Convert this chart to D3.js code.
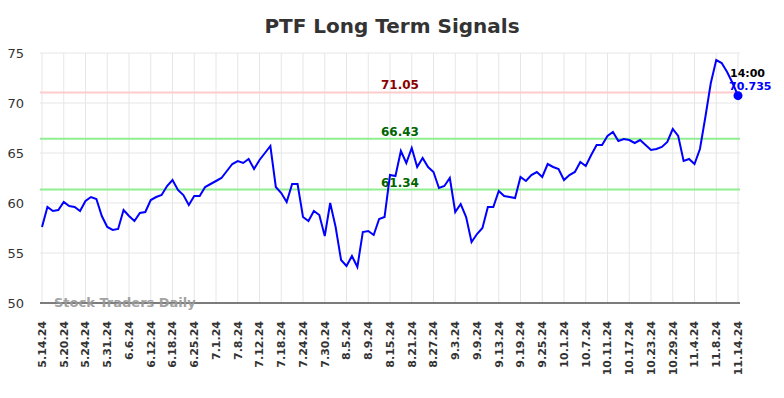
<!DOCTYPE html>
<html>
<head>
<meta charset="utf-8">
<script src="https://cdn.jsdelivr.net/npm/d3@7"></script>
<style>
  body { margin: 0; background: #fff; }
  svg { font-family: "DejaVu Sans", sans-serif; }
</style>
</head>
<body>
<div id="chart"></div>
<script>
// tick labels, one every 4 trading days
const tickLabels = ["5.14.24","5.20.24","5.24.24","5.31.24","6.6.24","6.12.24","6.18.24","6.25.24",
  "7.1.24","7.8.24","7.12.24","7.18.24","7.24.24","7.30.24","8.5.24","8.9.24","8.15.24",
  "8.21.24","8.27.24","9.3.24","9.9.24","9.13.24","9.19.24","9.25.24","10.1.24","10.7.24",
  "10.11.24","10.17.24","10.23.24","10.29.24","11.4.24","11.8.24","11.14.24"];

// daily closes
const prices = [57.6,59.6,59.2,59.3,60.1,59.7,59.6,59.2,60.2,60.6,60.4,58.7,57.6,57.3,57.4,59.3,
  58.7,58.2,59.0,59.1,60.3,60.6,60.8,61.7,62.3,61.3,60.8,59.8,60.7,60.7,61.6,61.9,
  62.2,62.5,63.2,63.9,64.2,64.0,64.4,63.4,64.3,65.0,65.7,61.6,61.0,60.1,61.9,61.9,
  58.6,58.2,59.2,58.8,56.7,60.0,57.6,54.3,53.7,54.7,53.6,57.1,57.2,56.8,58.4,58.6,
  62.8,62.7,65.2,64.0,65.5,63.6,64.5,63.6,63.1,61.5,61.7,62.5,59.1,59.9,58.6,56.1,
  56.9,57.5,59.6,59.6,61.2,60.7,60.6,60.5,62.6,62.2,62.8,63.1,62.6,63.9,63.6,63.4,
  62.3,62.8,63.1,64.1,63.7,64.8,65.8,65.8,66.7,67.1,66.2,66.4,66.3,66.0,66.3,65.8,
  65.3,65.4,65.6,66.1,67.4,66.7,64.2,64.4,63.9,65.4,68.6,72.0,74.3,74.0,73.1,72.0,70.735];

const yTicks = [50, 55, 60, 65, 70, 75];
const resistance = [71.05];
const supports = [66.43, 61.34];
const lastTime = "14:00";

const width = 784, height = 398;
const plotLeft = 40, plotRight = 740, plotTop = 53, plotBottom = 303;

const svg = d3.select("#chart").append("svg")
  .attr("width", width)
  .attr("height", height);

const x = d3.scaleLinear().domain([0, prices.length - 1]).range([plotLeft + 2, plotRight - 2]);
const y = d3.scaleLinear().domain([50, 75]).range([plotBottom, plotTop]);

// grid
svg.append("g").selectAll("line")
  .data(yTicks)
  .enter().append("line")
  .attr("x1", plotLeft).attr("x2", plotRight)
  .attr("y1", d => y(d)).attr("y2", d => y(d))
  .attr("stroke", "#e6e6e6").attr("stroke-width", 1);

svg.append("g").selectAll("line")
  .data(tickLabels)
  .enter().append("line")
  .attr("x1", (d, i) => x(i * 4)).attr("x2", (d, i) => x(i * 4))
  .attr("y1", plotTop).attr("y2", plotBottom)
  .attr("stroke", "#e6e6e6").attr("stroke-width", 1);

// y labels
svg.append("g").selectAll("text")
  .data(yTicks)
  .enter().append("text")
  .attr("x", 24).attr("y", d => y(d))
  .attr("dy", "0.35em")
  .attr("text-anchor", "end")
  .attr("font-size", 13)
  .attr("fill", "#333")
  .text(d => d);

// x labels
svg.append("g").selectAll("text")
  .data(tickLabels)
  .enter().append("text")
  .attr("transform", (d, i) => `translate(${x(i * 4)},${plotBottom + 18}) rotate(-90)`)
  .attr("dy", "0.35em")
  .attr("text-anchor", "end")
  .attr("font-size", 11)
  .attr("font-weight", "bold")
  .attr("fill", "#333")
  .text(d => d);

// signal lines
svg.append("g").selectAll("line")
  .data(resistance)
  .enter().append("line")
  .attr("x1", plotLeft).attr("x2", plotRight)
  .attr("y1", d => y(d)).attr("y2", d => y(d))
  .attr("stroke", "#ffcccc").attr("stroke-width", 2);

svg.append("g").selectAll("line")
  .data(supports)
  .enter().append("line")
  .attr("x1", plotLeft).attr("x2", plotRight)
  .attr("y1", d => y(d)).attr("y2", d => y(d))
  .attr("stroke", "#90ee90").attr("stroke-width", 2);

svg.append("g").selectAll("text")
  .data(resistance)
  .enter().append("text")
  .attr("x", 400).attr("y", d => y(d) - 4)
  .attr("text-anchor", "middle")
  .attr("font-size", 12).attr("font-weight", "bold")
  .attr("fill", "#8b0000")
  .text(d => d.toFixed(2));

svg.append("g").selectAll("text")
  .data(supports)
  .enter().append("text")
  .attr("x", 400).attr("y", d => y(d) - 3)
  .attr("text-anchor", "middle")
  .attr("font-size", 12).attr("font-weight", "bold")
  .attr("fill", "#006400")
  .text(d => d.toFixed(2));

// axis baseline
svg.append("line")
  .attr("x1", plotLeft).attr("x2", plotRight)
  .attr("y1", plotBottom).attr("y2", plotBottom)
  .attr("stroke", "#555").attr("stroke-width", 1.5);

// watermark
svg.append("text")
  .attr("x", 54).attr("y", 307)
  .attr("font-size", 13).attr("font-weight", "bold")
  .attr("fill", "#999")
  .attr("opacity", 0.9)
  .text("Stock Traders Daily");

// price line
const line = d3.line()
  .x((d, i) => x(i))
  .y(d => y(d));

svg.append("path")
  .datum(prices)
  .attr("fill", "none")
  .attr("stroke", "#0000ff")
  .attr("stroke-width", 2)
  .attr("d", line);

// last point
const li = prices.length - 1;
svg.append("circle")
  .attr("cx", x(li)).attr("cy", y(prices[li]))
  .attr("r", 4.5)
  .attr("fill", "#0000ff");

svg.append("text")
  .attr("x", x(li) - 8).attr("y", y(prices[li]) - 19)
  .attr("font-size", 11).attr("font-weight", "bold")
  .attr("fill", "#000")
  .text(lastTime);

svg.append("text")
  .attr("x", x(li) - 9).attr("y", y(prices[li]) - 6)
  .attr("font-size", 11).attr("font-weight", "bold")
  .attr("fill", "#0000ff")
  .text(prices[li]);

// title
svg.append("text")
  .attr("x", width / 2).attr("y", 33)
  .attr("text-anchor", "middle")
  .attr("font-size", 20).attr("font-weight", "bold")
  .attr("fill", "#333")
  .text("PTF Long Term Signals");
</script>
</body>
</html>
